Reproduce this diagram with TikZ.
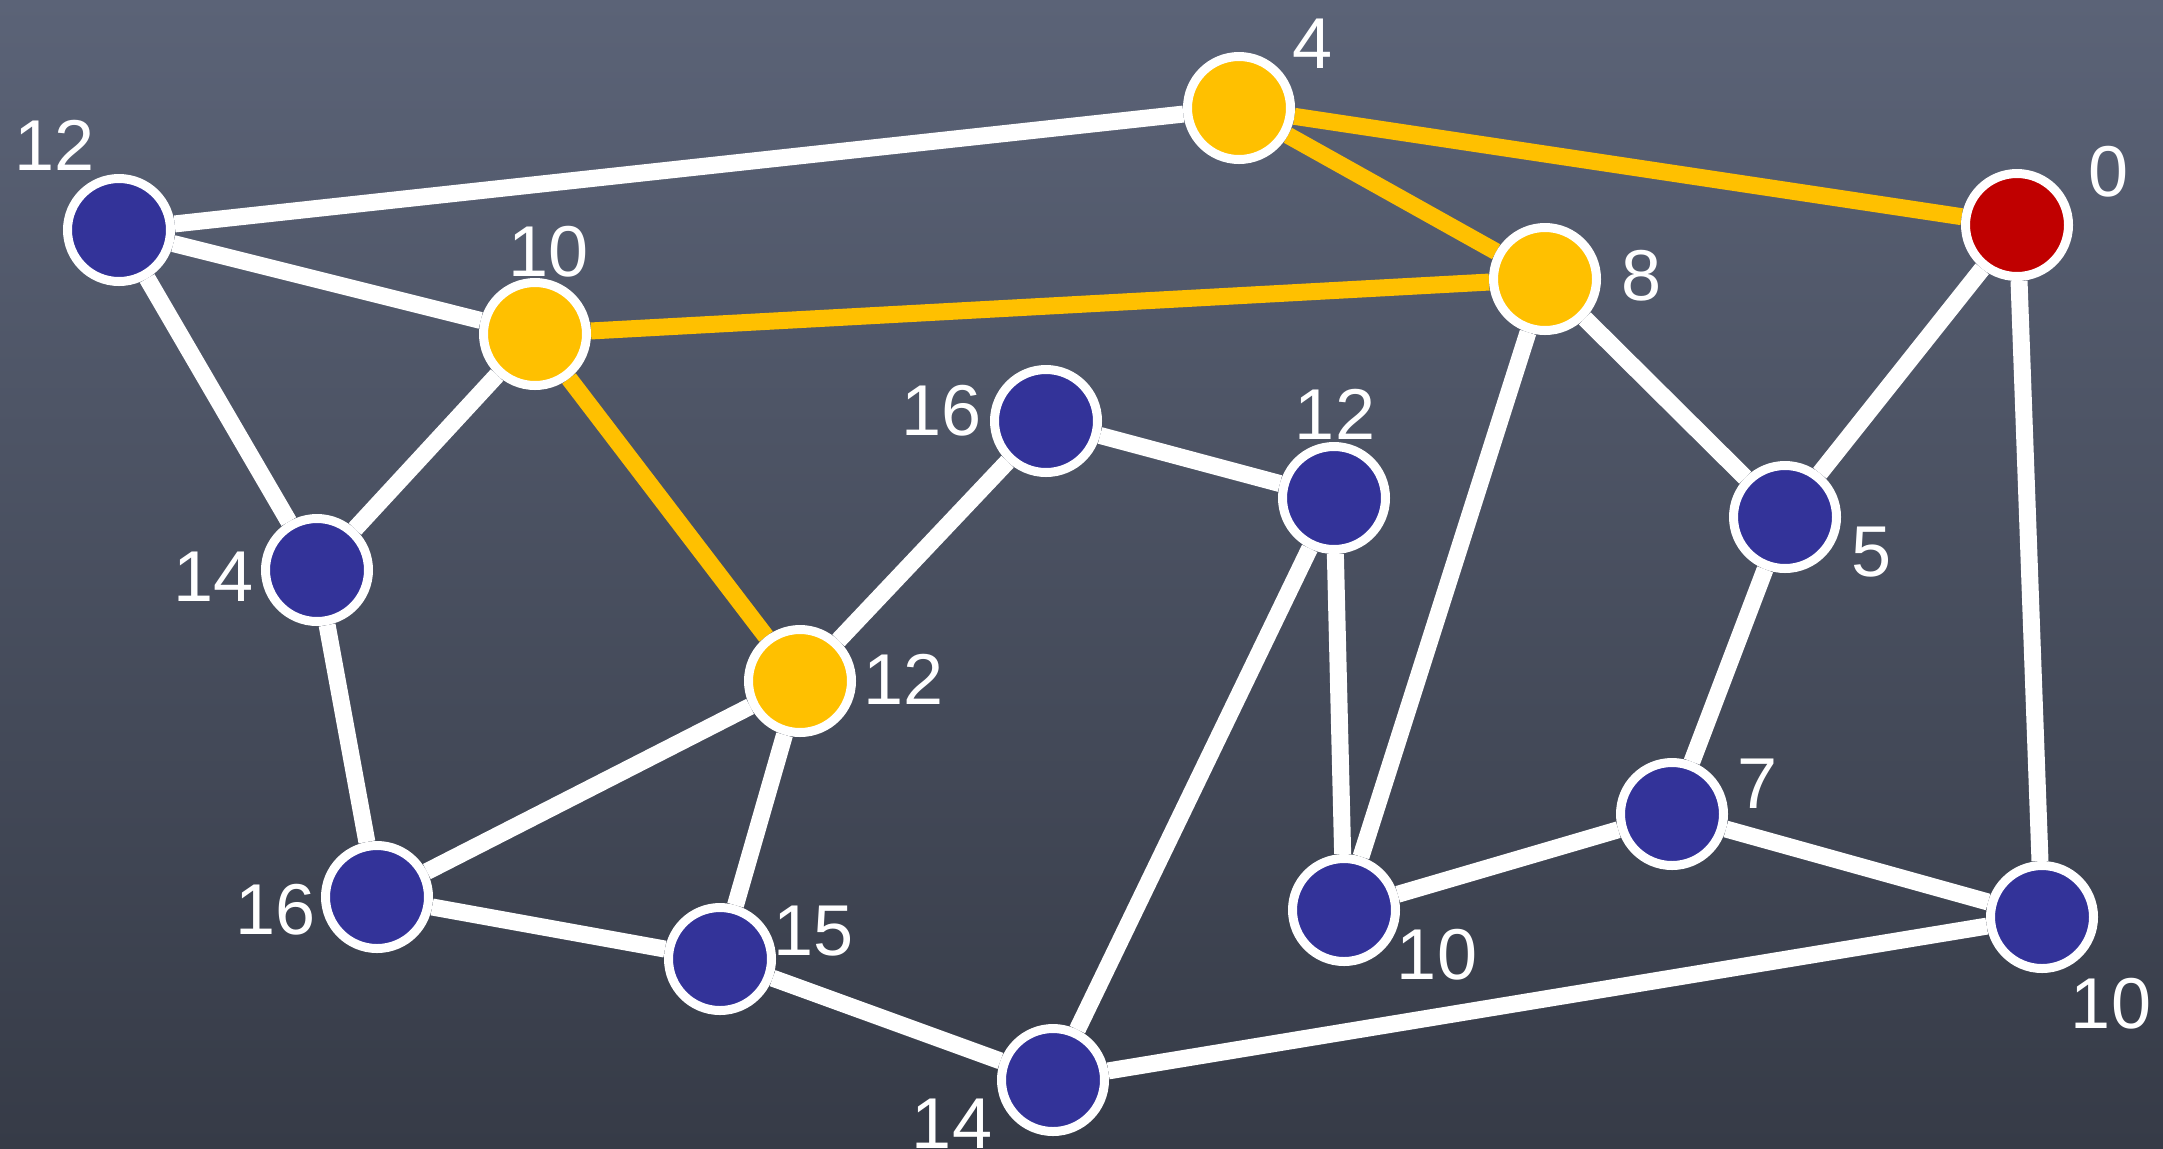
\documentclass[tikz,border=0pt]{standalone}
\usepackage{fontspec}
\setmainfont{Liberation Sans}
\definecolor{bgtop}{HTML}{5B6377}
\definecolor{bgbot}{HTML}{363B47}
\definecolor{vyellow}{HTML}{FFC000}
\definecolor{vred}{HTML}{C00000}
\definecolor{vblue}{HTML}{333399}
\pgfdeclarelayer{back}
\pgfdeclarelayer{edges}
\pgfsetlayers{back,edges,main}
\begin{document}
\begin{tikzpicture}[x=0.5pt,y=-0.5pt,
  vtx/.style={circle,draw=white,line width=4.5pt,minimum size=51.5pt,inner sep=0pt},
  vb/.style={vtx,fill=vblue},
  vy/.style={vtx,fill=vyellow},
  vr/.style={vtx,fill=vred},
  lab/.style={text=white,inner sep=0pt,font=\fontsize{36}{40}\selectfont},
  we/.style={draw=white,line width=8.5pt},
  ye/.style={draw=vyellow,line width=8.5pt}]
\begin{pgfonlayer}{back}
\shade[top color=bgtop,bottom color=bgbot] (0,0) rectangle (2163,1148);
\end{pgfonlayer}
\useasboundingbox (0,0) rectangle (2163,1148);
% vertices
\node[vy] (A) at (1239,108) {};
\node[vr] (B) at (2017,225) {};
\node[vb] (C) at (119,230) {};
\node[vy] (D) at (535,334) {};
\node[vy] (E) at (1545,279) {};
\node[vb] (F) at (1046,421) {};
\node[vb] (G) at (1334,498) {};
\node[vb] (H) at (1785,517) {};
\node[vb] (I) at (317,570) {};
\node[vy] (J) at (800,681) {};
\node[vb] (K) at (1672,814) {};
\node[vb] (L) at (377,897) {};
\node[vb] (M) at (1344,910) {};
\node[vb] (N) at (2042,917) {};
\node[vb] (O) at (720,959) {};
\node[vb] (P) at (1053,1080) {};
% edges
\begin{pgfonlayer}{edges}
\path[we] (C) -- (A);
\path[we] (C) -- (D);
\path[we] (C) -- (I);
\path[we] (D) -- (I);
\path[we] (J) -- (F);
\path[we] (F) -- (G);
\path[we] (G) -- (M);
\path[we] (G) -- (P);
\path[we] (E) -- (M);
\path[we] (E) -- (H);
\path[we] (B) -- (H);
\path[we] (B) -- (N);
\path[we] (H) -- (K);
\path[we] (K) -- (M);
\path[we] (K) -- (N);
\path[we] (N) -- (P);
\path[we] (I) -- (L);
\path[we] (L) -- (J);
\path[we] (J) -- (O);
\path[we] (L) -- (O);
\path[we] (O) -- (P);
\path[ye] (A) -- (B);
\path[ye] (A) -- (E);
\path[ye] (D) -- (E);
\path[ye] (D) -- (J);
\end{pgfonlayer}
% labels
\node[lab] (lA) at (1313,44) {4};
\node[lab] (lB) at (2108,172) {0};
\node[lab] (lC) at (55,145) {12};
\node[lab] (lD) at (549,252) {10};
\node[lab] (lE) at (1642,276) {8};
\node[lab] (lF) at (942,411) {16};
\node[lab] (lG) at (1335,414) {12};
\node[lab] (lH) at (1871,552) {5};
\node[lab] (lI) at (214,577) {14};
\node[lab] (lJ) at (904,679) {12};
\node[lab] (lK) at (1757,784) {7};
\node[lab] (lL) at (276,910) {16};
\node[lab] (lM) at (1437,955) {10};
\node[lab] (lN) at (2111,1004) {10};
\node[lab] (lO) at (814,931) {15};
\node[lab] (lP) at (952,1124) {14};
\end{tikzpicture}
\end{document}
